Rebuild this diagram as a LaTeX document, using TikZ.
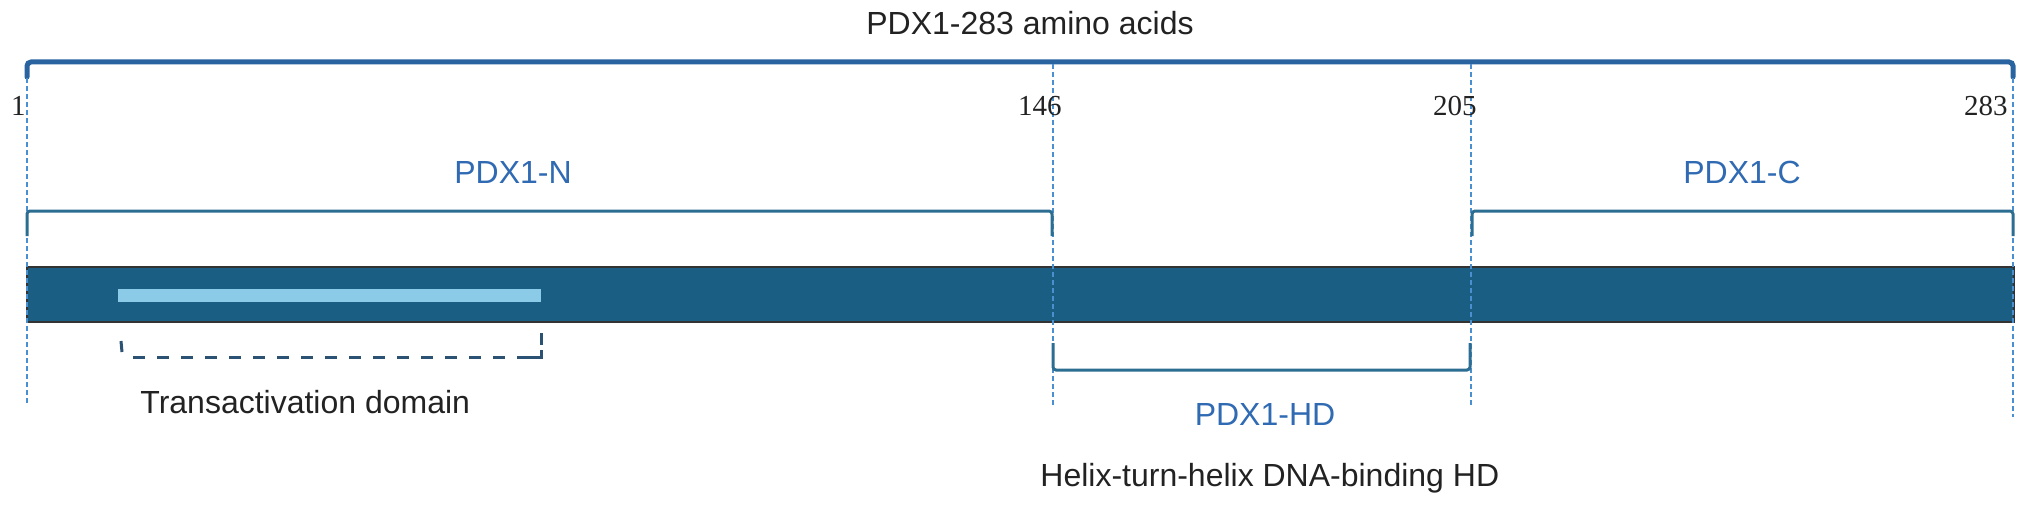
\documentclass[tikz,border=0pt]{standalone}
\usepackage{fontspec}
\setmainfont{Liberation Sans}
\newfontfamily\numfont{Liberation Serif}
\begin{document}
\begin{tikzpicture}[x=0.5pt,y=-0.5pt,
  lbl/.style={inner sep=0pt,anchor=base,font=\fontsize{16}{19}\selectfont},
  bluelbl/.style={lbl,text=lblblue},
  darklbl/.style={lbl,text=txtgray},
  numlbl/.style={inner sep=0pt,anchor=base east,text=txtgray,font=\numfont\fontsize{14.5}{17}\selectfont},
  topbracket/.style={draw=topblue,line width=2.5pt,rounded corners=2pt,line cap=round},
  subbracket/.style={draw=brblue,line width=1.5pt,rounded corners=1.5pt},
  tadline/.style={draw=tadblue,line width=1.5pt,dash pattern=on 6pt off 6pt},
  tadleg/.style={draw=tadblue,line width=1.5pt},
  guide/.style={draw=guideblue,line width=0.9pt,dash pattern=on 2.5pt off 1.5pt},
  protein/.style={draw=black!80,line width=1pt,fill=barblue},
  tadfill/.style={fill=lightbar,draw=none}
]
\definecolor{topblue}{HTML}{2A64A0}
\definecolor{brblue}{HTML}{2C6D92}
\definecolor{tadblue}{HTML}{2B5272}
\definecolor{guideblue}{HTML}{4A8FD0}
\definecolor{barblue}{HTML}{1B5E84}
\definecolor{lightbar}{HTML}{8CCBE8}
\definecolor{lblblue}{HTML}{2F6AB3}
\definecolor{txtgray}{HTML}{222222}
\useasboundingbox (0,0) rectangle (2032,508);

% protein bar
\node[protein,minimum width=993.5pt,minimum height=27.5pt,inner sep=0pt,anchor=north west] (bar) at (26,266) {};
\node[tadfill,minimum width=211.5pt,minimum height=6.5pt,inner sep=0pt,anchor=north west] (tad) at (118,289) {};

% top bracket
\draw[topbracket] (27,77) -- (27,62) -- (2013,62) -- (2013,77);

% guide lines
\draw[guide] (27,78) -- (27,405);
\draw[guide] (1053,64) -- (1053,405);
\draw[guide] (1471,64) -- (1471,405);
\draw[guide] (2013,78) -- (2013,417);

% domain brackets
\draw[subbracket] (27,236) -- (27,211) -- (1052,211) -- (1052,236);
\draw[subbracket] (1472,236) -- (1472,211) -- (2013,211) -- (2013,236);
\draw[subbracket] (1053,343) -- (1053,370) -- (1470,370) -- (1470,343);
\draw[tadleg] (121,341) -- (122,352);
\draw[tadleg] (541,333) -- (541,345);
\draw[tadline] (133,357) -- (541,357);
\draw[tadleg] (529,357) -- (541,357) -- (541,350);

% labels
\node[darklbl] (title) at (1030,35) {PDX1-283 amino acids};
\node[numlbl] (n1) at (26,115) {1};
\node[numlbl] (n146) at (1062,115) {146};
\node[numlbl] (n205) at (1477,115) {205};
\node[numlbl] (n283) at (2008,115) {283};
\node[bluelbl] (lN) at (513,183) {PDX1-N};
\node[bluelbl] (lC) at (1742,183) {PDX1-C};
\node[bluelbl] (lHD) at (1265,425) {PDX1-HD};
\node[darklbl,anchor=base west] (lTAD) at (140,413) {Transactivation domain};
\node[darklbl,anchor=base west] (lHTH) at (1040,486) {Helix-turn-helix DNA-binding HD};
\end{tikzpicture}
\end{document}
